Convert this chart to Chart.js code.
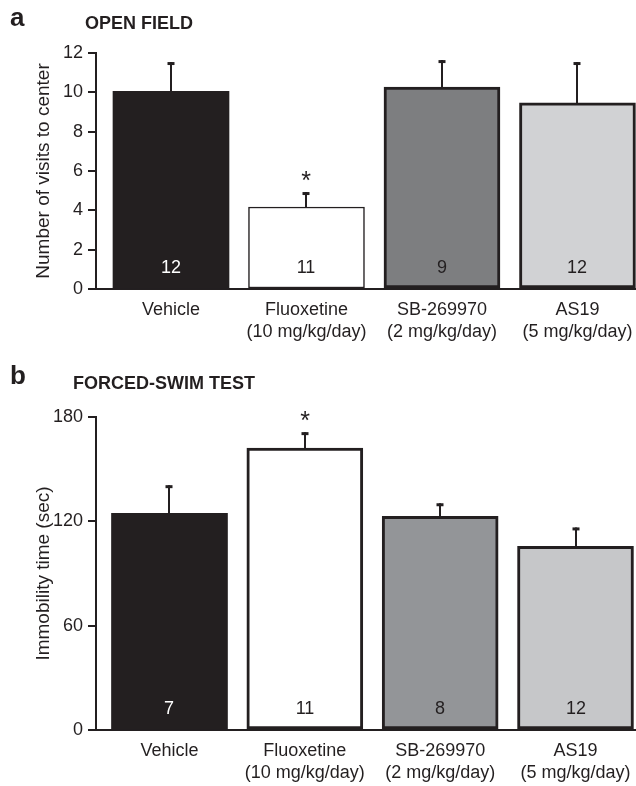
<!DOCTYPE html>
<html>
<head>
<meta charset="utf-8">
<script src="https://cdn.jsdelivr.net/npm/chart.js@4.4.1/dist/chart.umd.min.js"></script>
<style>
  html, body { margin: 0; padding: 0; background: #fff; overflow: hidden; }
  .panel { position: absolute; left: 0; width: 636px; }
  #panelA { top: 0; height: 345px; }
  #panelB { top: 345px; height: 441px; }
</style>
</head>
<body>
<div class="panel" id="panelA"><canvas id="openField"></canvas></div>
<div class="panel" id="panelB"><canvas id="forcedSwim"></canvas></div>
<script>
// groups along the x axis (multi-line labels)
const groups = [
  ['Vehicle'],
  ['Fluoxetine', '(10 mg/kg/day)'],
  ['SB-269970', '(2 mg/kg/day)'],
  ['AS19', '(5 mg/kg/day)']
];
const groupPos = [0, 1, 2, 3];
const significant = [false, true, false, false];

// a: open field
const openFieldMean = [10.05, 4.17, 10.27, 9.46];
const openFieldSem = [1.49, 0.76, 1.37, 2.08];
const openFieldN = [12, 11, 9, 12];
const openFieldTicks = [0, 2, 4, 6, 8, 10, 12];

// b: forced-swim test
const swimMean = [124.6, 162.1, 122.9, 105.6];
const swimSem = [16.2, 9.2, 7.5, 10.9];
const swimN = [7, 11, 8, 12];
const swimTicks = [0, 60, 120, 180];

const INK = '#231f20';
const FONT = '"Liberation Sans", Arial, Helvetica, sans-serif';

// error bars, n inside bars, significance stars and panel heading
const barExtras = {
  id: 'barExtras',
  afterDatasetsDraw(chart, args, opts) {
    const { ctx, scales: { x, y } } = chart;
    ctx.save();
    ctx.strokeStyle = INK;
    opts.means.forEach((m, i) => {
      const cx = Math.round(x.getPixelForValue(groupPos[i]));
      const yTop = y.getPixelForValue(m);
      const yErr = y.getPixelForValue(m + opts.sems[i]);
      ctx.lineWidth = 2;
      ctx.beginPath();
      ctx.moveTo(cx, yTop);
      ctx.lineTo(cx, yErr);
      ctx.stroke();
      ctx.lineWidth = 3;
      ctx.beginPath();
      ctx.moveTo(cx - 3.5, yErr + 1.5);
      ctx.lineTo(cx + 3.5, yErr + 1.5);
      ctx.stroke();

      ctx.font = '18px ' + FONT;
      ctx.textAlign = 'center';
      ctx.textBaseline = 'middle';
      ctx.fillStyle = i === 0 ? '#ffffff' : INK;
      ctx.fillText(String(opts.counts[i]), cx, y.getPixelForValue(0) - 21);

      if (significant[i]) {
        ctx.fillStyle = INK;
        ctx.font = '25px ' + FONT;
        ctx.textBaseline = 'alphabetic';
        ctx.fillText('*', cx, yErr - 3);
      }
    });
    ctx.fillStyle = INK;
    ctx.textAlign = 'left';
    ctx.textBaseline = 'alphabetic';
    ctx.font = 'bold 26px ' + FONT;
    ctx.fillText(opts.letter, 10, opts.letterY);
    ctx.font = 'bold 18px ' + FONT;
    ctx.fillText(opts.heading, opts.headX, opts.headY);
    ctx.restore();
  }
};

function xScale(min, max) {
  return {
    type: 'linear',
    min: min,
    max: max,
    offset: false,
    afterBuildTicks: s => { s.ticks = groupPos.map(v => ({ value: v })); },
    afterFit: s => {
      s.height = 56;
      // labels already fit inside the canvas, keep the plot full width
      s.paddingLeft = 0;
      s.paddingRight = 0;
    },
    grid: { display: false, drawTicks: false, offset: false },
    border: { color: INK, width: 2 },
    ticks: {
      color: INK,
      font: { family: FONT, size: 18, lineHeight: 1.22 },
      padding: 10,
      maxRotation: 0,
      autoSkip: false,
      callback: v => groups[v]
    }
  };
}

function yScale(max, tickValues, title) {
  return {
    min: 0,
    max: max,
    afterBuildTicks: s => { s.ticks = tickValues.map(v => ({ value: v })); },
    afterFit: s => { s.width = 96; },
    grid: { drawOnChartArea: false, tickLength: 8, color: INK, lineWidth: 2 },
    border: { color: INK, width: 2 },
    ticks: { color: INK, font: { family: FONT, size: 18 }, padding: 5 },
    title: {
      display: true,
      text: title,
      color: INK,
      font: { family: FONT, size: 19 },
      padding: { top: 32, bottom: 0 }
    }
  };
}

new Chart(document.getElementById('openField'), {
  type: 'bar',
  data: {
    datasets: [{
      data: groupPos.map((p, i) => ({ x: p, y: openFieldMean[i] })),
      backgroundColor: [INK, '#ffffff', '#7d7e80', '#d1d2d4'],
      borderColor: INK,
      borderWidth: [0, 1.5, 3, 3],
      borderSkipped: false,
      barThickness: 116
    }]
  },
  options: {
    responsive: true,
    maintainAspectRatio: false,
    animation: false,
    layout: { padding: { top: 53, right: 0, bottom: 0, left: 0 } },
    plugins: {
      legend: { display: false },
      tooltip: { enabled: false },
      barExtras: {
        means: openFieldMean, sems: openFieldSem, counts: openFieldN,
        letter: 'a', letterY: 26, heading: 'OPEN FIELD', headX: 85, headY: 29
      }
    },
    scales: {
      x: xScale(-0.5535, 3.432),
      y: yScale(12, openFieldTicks, 'Number of visits to center')
    }
  },
  plugins: [barExtras]
});

new Chart(document.getElementById('forcedSwim'), {
  type: 'bar',
  data: {
    datasets: [{
      data: groupPos.map((p, i) => ({ x: p, y: swimMean[i] })),
      backgroundColor: [INK, '#ffffff', '#939598', '#c6c7c9'],
      borderColor: INK,
      borderWidth: [0, 3, 3, 3],
      borderSkipped: false,
      barThickness: 116
    }]
  },
  options: {
    responsive: true,
    maintainAspectRatio: false,
    animation: false,
    layout: { padding: { top: 72, right: 0, bottom: 0, left: 0 } },
    plugins: {
      legend: { display: false },
      tooltip: { enabled: false },
      barExtras: {
        means: swimMean, sems: swimSem, counts: swimN,
        letter: 'b', letterY: 39, heading: 'FORCED-SWIM TEST', headX: 73, headY: 44
      }
    },
    scales: {
      x: xScale(-0.543, 3.447),
      y: yScale(180, swimTicks, 'Immobility time (sec)')
    }
  },
  plugins: [barExtras]
});
</script>
</body>
</html>
